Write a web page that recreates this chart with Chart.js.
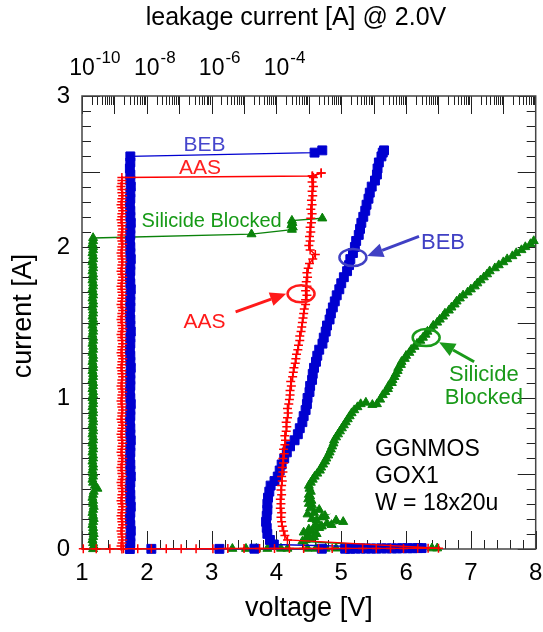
<!DOCTYPE html>
<html>
<head>
<meta charset="utf-8">
<title>GGNMOS TLP</title>
<script src="https://cdn.jsdelivr.net/npm/chart.js@4.4.1/dist/chart.umd.min.js"></script>
<style>
  html, body { margin: 0; padding: 0; background: #fff; }
  #wrap { width: 543px; height: 632px; position: relative; }
</style>
</head>
<body>
<div id="wrap"><canvas id="tlp"></canvas></div>
<script>
// TLP pulses: current [A], voltage [V]; leakage [A] read after each pulse at 2.0V

// BEB
const bebIvAmp = [
  0.001, 0.001, 0.002, 0.002, 0.002, 0.002, 0.003, 0.003, 0.003, 0.003,
  0.003, 0.004, 0.004, 0.004, 0.004, 0.005, 0.005, 0.005, 0.006, 0.006,
  0.03, 0.06, 0.10, 0.14, 0.18, 0.22, 0.26, 0.30, 0.34, 0.38,
  0.42, 0.45, 0.48, 0.52, 0.56, 0.60, 0.64, 0.68, 0.72, 0.76,
  0.80, 0.84, 0.88, 0.92, 0.96, 1.00, 1.04, 1.08, 1.12, 1.16,
  1.20, 1.24, 1.28, 1.32, 1.36, 1.40, 1.44, 1.48, 1.52, 1.56,
  1.60, 1.64, 1.68, 1.72, 1.76, 1.80, 1.84, 1.88, 1.92, 1.96,
  2.00, 2.04, 2.08, 2.12, 2.16, 2.20, 2.24, 2.28, 2.32, 2.36,
  2.40, 2.44, 2.48, 2.52, 2.56, 2.60, 2.625, 2.64
];
const bebIvVolt = [
  2.07, 3.12, 3.66, 4.70, 5.06, 5.14, 5.22, 5.30, 5.38, 5.46,
  5.54, 5.62, 5.70, 5.78, 5.86, 5.94, 6.02, 6.10, 6.18, 6.24,
  3.96, 3.90, 3.86, 3.85, 3.84, 3.85, 3.86, 3.86, 3.87, 3.89,
  3.91, 3.97, 4.02, 4.05, 4.08, 4.12, 4.16, 4.21, 4.28, 4.33,
  4.36, 4.40, 4.42, 4.45, 4.47, 4.48, 4.51, 4.52, 4.55, 4.56,
  4.58, 4.61, 4.63, 4.66, 4.71, 4.73, 4.76, 4.78, 4.82, 4.84,
  4.87, 4.90, 4.93, 4.97, 5.00, 5.04, 5.09, 5.12, 5.14, 5.18,
  5.21, 5.23, 5.27, 5.29, 5.31, 5.34, 5.37, 5.39, 5.42, 5.44,
  5.47, 5.52, 5.55, 5.56, 5.58, 5.62, 5.64, 5.66
];
const bebLeakAmp = [
  0.00, 0.04, 0.08, 0.12, 0.16, 0.20, 0.24, 0.28, 0.32, 0.36,
  0.40, 0.44, 0.48, 0.52, 0.56, 0.60, 0.64, 0.68, 0.72, 0.76,
  0.80, 0.84, 0.88, 0.92, 0.96, 1.00, 1.04, 1.08, 1.12, 1.16,
  1.20, 1.24, 1.28, 1.32, 1.36, 1.40, 1.44, 1.48, 1.52, 1.56,
  1.60, 1.64, 1.68, 1.72, 1.76, 1.80, 1.84, 1.88, 1.92, 1.96,
  2.00, 2.04, 2.08, 2.12, 2.16, 2.20, 2.24, 2.28, 2.32, 2.36,
  2.40, 2.44, 2.48, 2.52, 2.56, 2.60, 2.625, 2.64
];
const bebLeak = [
  3.0e-9, 3.1e-9, 3.1e-9, 3.2e-9, 3.1e-9, 3.0e-9, 3.1e-9, 3.2e-9, 3.1e-9, 3.1e-9,
  3.0e-9, 3.1e-9, 3.2e-9, 3.1e-9, 3.1e-9, 3.0e-9, 3.1e-9, 3.1e-9, 3.2e-9, 3.1e-9,
  3.1e-9, 3.0e-9, 3.1e-9, 3.1e-9, 3.2e-9, 3.1e-9, 3.0e-9, 3.1e-9, 3.1e-9, 3.1e-9,
  3.2e-9, 3.1e-9, 3.1e-9, 3.0e-9, 3.1e-9, 3.1e-9, 3.2e-9, 3.1e-9, 3.1e-9, 3.0e-9,
  3.1e-9, 3.1e-9, 3.1e-9, 3.2e-9, 3.1e-9, 3.0e-9, 3.1e-9, 3.1e-9, 3.2e-9, 3.1e-9,
  3.1e-9, 3.0e-9, 3.1e-9, 3.1e-9, 3.2e-9, 3.1e-9, 3.1e-9, 3.0e-9, 3.1e-9, 3.1e-9,
  3.2e-9, 3.1e-9, 3.1e-9, 3.0e-9, 3.1e-9, 3.1e-9, 1.5e-3, 2.6e-3
];

// AAS
const aasIvAmp = [
  0.001, 0.001, 0.001, 0.002, 0.002, 0.002, 0.002, 0.002, 0.002, 0.002,
  0.003, 0.003, 0.003, 0.003, 0.003, 0.003, 0.003, 0.003, 0.004, 0.004,
  0.004, 0.004, 0.004, 0.005, 0.005, 0.005,
  0.06, 0.09, 0.12, 0.15, 0.18, 0.21, 0.24, 0.27, 0.30, 0.33,
  0.36, 0.39, 0.42, 0.45, 0.48, 0.51, 0.54, 0.57, 0.60, 0.63,
  0.66, 0.69, 0.72, 0.75, 0.78, 0.81, 0.84, 0.87, 0.90, 0.93,
  0.96, 0.99, 1.02, 1.05, 1.08, 1.11, 1.14, 1.17, 1.20, 1.23,
  1.26, 1.29, 1.32, 1.35, 1.38, 1.41, 1.44, 1.47, 1.50, 1.53,
  1.56, 1.59, 1.62, 1.65, 1.68, 1.71, 1.74, 1.77, 1.80, 1.83,
  1.86, 1.89, 1.92, 1.95, 1.98, 2.01, 2.04, 2.07, 2.10, 2.13,
  2.16, 2.19, 2.22, 2.25, 2.28, 2.31, 2.34, 2.37, 2.40, 2.43,
  2.46, 2.47, 2.49
];
const aasIvVolt = [
  1.02, 1.22, 1.43, 1.64, 1.86, 2.07, 2.30, 2.53, 2.76, 3.02,
  3.25, 3.50, 3.74, 3.97, 4.20, 4.42, 4.65, 4.86, 5.07, 5.33,
  5.54, 5.76, 5.96, 6.18, 6.34, 6.50,
  4.17, 4.13, 4.11, 4.09, 4.08, 4.07, 4.08, 4.06, 4.07, 4.06,
  4.08, 4.07, 4.08, 4.09, 4.08, 4.10, 4.09, 4.11, 4.10, 4.12,
  4.11, 4.13, 4.14, 4.13, 4.15, 4.16, 4.15, 4.17, 4.18, 4.17,
  4.19, 4.20, 4.21, 4.21, 4.23, 4.22, 4.25, 4.26, 4.27, 4.29,
  4.30, 4.31, 4.33, 4.34, 4.36, 4.36, 4.38, 4.39, 4.40, 4.41,
  4.42, 4.43, 4.45, 4.45, 4.47, 4.45, 4.47, 4.46, 4.48, 4.47,
  4.49, 4.51, 4.56, 4.60, 4.52, 4.50, 4.52, 4.51, 4.53, 4.52,
  4.54, 4.53, 4.55, 4.53, 4.55, 4.54, 4.56, 4.55, 4.57, 4.55,
  4.57, 4.55, 4.69
];
const aasLeakAmp = [
  0.00, 0.02, 0.04, 0.06, 0.08, 0.10, 0.12, 0.14, 0.16, 0.18,
  0.20, 0.22, 0.24, 0.26, 0.28, 0.30, 0.32, 0.34, 0.36, 0.38,
  0.40, 0.42, 0.44, 0.46, 0.48, 0.50, 0.52, 0.54, 0.56, 0.58,
  0.60, 0.62, 0.64, 0.66, 0.68, 0.70, 0.72, 0.74, 0.76, 0.78,
  0.80, 0.82, 0.84, 0.86, 0.88, 0.90, 0.92, 0.94, 0.96, 0.98,
  1.00, 1.02, 1.04, 1.06, 1.08, 1.10, 1.12, 1.14, 1.16, 1.18,
  1.20, 1.22, 1.24, 1.26, 1.28, 1.30, 1.32, 1.34, 1.36, 1.38,
  1.40, 1.42, 1.44, 1.46, 1.48, 1.50, 1.52, 1.54, 1.56, 1.58,
  1.60, 1.62, 1.64, 1.66, 1.68, 1.70, 1.72, 1.74, 1.76, 1.78,
  1.80, 1.82, 1.84, 1.86, 1.88, 1.90, 1.92, 1.94, 1.96, 1.98,
  2.00, 2.02, 2.04, 2.06, 2.08, 2.10, 2.12, 2.14, 2.16, 2.18,
  2.20, 2.22, 2.24, 2.26, 2.28, 2.30, 2.32, 2.34, 2.36, 2.38,
  2.40, 2.42, 2.44, 2.46, 2.47, 2.49
];
const aasLeak = [
  1.7e-9, 1.6e-9, 1.7e-9, 1.8e-9, 1.7e-9, 1.7e-9, 1.6e-9, 1.7e-9, 1.8e-9, 1.7e-9,
  1.7e-9, 1.6e-9, 1.7e-9, 1.7e-9, 1.8e-9, 1.7e-9, 1.6e-9, 1.7e-9, 1.7e-9, 1.8e-9,
  1.7e-9, 1.7e-9, 1.6e-9, 1.7e-9, 1.8e-9, 1.7e-9, 1.7e-9, 1.6e-9, 1.7e-9, 1.7e-9,
  1.8e-9, 1.7e-9, 1.6e-9, 1.7e-9, 1.7e-9, 1.8e-9, 1.7e-9, 1.7e-9, 1.6e-9, 1.7e-9,
  1.7e-9, 1.8e-9, 1.7e-9, 1.6e-9, 1.7e-9, 1.7e-9, 1.8e-9, 1.7e-9, 1.7e-9, 1.6e-9,
  1.7e-9, 1.7e-9, 1.8e-9, 1.7e-9, 1.6e-9, 1.7e-9, 1.7e-9, 1.8e-9, 1.7e-9, 1.7e-9,
  1.6e-9, 1.7e-9, 1.7e-9, 1.8e-9, 1.7e-9, 1.6e-9, 1.7e-9, 1.7e-9, 1.8e-9, 1.7e-9,
  1.7e-9, 1.6e-9, 1.7e-9, 1.8e-9, 1.7e-9, 1.7e-9, 1.6e-9, 1.7e-9, 1.7e-9, 1.8e-9,
  1.7e-9, 1.6e-9, 1.7e-9, 1.7e-9, 1.8e-9, 1.7e-9, 1.7e-9, 1.6e-9, 1.7e-9, 1.7e-9,
  1.8e-9, 1.7e-9, 1.6e-9, 1.7e-9, 1.7e-9, 1.8e-9, 1.7e-9, 1.7e-9, 1.6e-9, 1.7e-9,
  1.7e-9, 1.8e-9, 1.7e-9, 1.6e-9, 1.7e-9, 1.7e-9, 1.8e-9, 1.7e-9, 1.7e-9, 1.6e-9,
  1.7e-9, 1.7e-9, 1.8e-9, 1.7e-9, 1.6e-9, 1.7e-9, 1.7e-9, 1.8e-9, 1.7e-9, 1.7e-9,
  1.6e-9, 1.7e-9, 1.7e-9, 1.7e-9, 1.3e-3, 2.4e-3
];

// Silicide Blocked
const sbIvAmp = [
  0.002, 0.002, 0.002, 0.002, 0.003, 0.003, 0.003, 0.003, 0.003, 0.004,
  0.005, 0.005,
  0.05, 0.06, 0.07, 0.08, 0.10, 0.09, 0.11, 0.12, 0.14, 0.13,
  0.15, 0.16, 0.18, 0.19, 0.17, 0.16, 0.19, 0.21, 0.22, 0.20,
  0.23, 0.24, 0.26, 0.27, 0.29, 0.30, 0.32, 0.33, 0.35, 0.36,
  0.38, 0.40,
  0.42, 0.44, 0.46, 0.48, 0.50, 0.52, 0.54, 0.56, 0.58, 0.60,
  0.62, 0.64, 0.66, 0.68, 0.70, 0.72, 0.74, 0.76, 0.78, 0.80,
  0.82, 0.84, 0.86, 0.88, 0.90, 0.92, 0.94, 0.96, 0.97, 0.955,
  0.96, 0.99, 1.02,
  1.04, 1.06, 1.08, 1.10, 1.12, 1.14, 1.16, 1.18, 1.20, 1.22,
  1.24, 1.26, 1.28, 1.30, 1.32, 1.34, 1.36, 1.38, 1.40, 1.42,
  1.44, 1.46, 1.48, 1.50, 1.52, 1.54, 1.56, 1.58, 1.60, 1.62,
  1.64, 1.66, 1.68, 1.70, 1.72, 1.74, 1.76, 1.78, 1.80, 1.82,
  1.84, 1.86, 1.88, 1.90, 1.92, 1.94, 1.96, 1.98, 2.00, 2.02,
  2.04
];
const sbIvVolt = [
  3.32, 3.53, 3.69, 3.86, 4.07, 4.17, 4.48, 4.61, 4.76, 4.92,
  6.40, 6.48,
  4.40, 4.45, 4.52, 4.58, 4.62, 4.48, 4.42, 4.55, 4.66, 4.50,
  4.70, 4.85, 5.03, 4.92, 4.78, 4.60, 4.62, 4.70, 4.75, 4.55,
  4.48, 4.58, 4.66, 4.52, 4.55, 4.50, 4.54, 4.49, 4.52, 4.50,
  4.53, 4.51,
  4.50, 4.53, 4.56, 4.59, 4.63, 4.67, 4.69, 4.72, 4.75, 4.77,
  4.80, 4.82, 4.84, 4.86, 4.88, 4.89, 4.92, 4.95, 4.98, 5.01,
  5.04, 5.07, 5.10, 5.13, 5.16, 5.20, 5.25, 5.30, 5.38, 5.48,
  5.55, 5.60, 5.64,
  5.68, 5.72, 5.73, 5.78, 5.79, 5.82, 5.84, 5.87, 5.88, 5.92,
  5.93, 5.98, 6.00, 6.05, 6.08, 6.13, 6.17, 6.22, 6.26, 6.30,
  6.33, 6.39, 6.42, 6.48, 6.52, 6.57, 6.60, 6.66, 6.70, 6.75,
  6.78, 6.83, 6.88, 6.95, 7.00, 7.06, 7.10, 7.15, 7.20, 7.25,
  7.29, 7.37, 7.43, 7.50, 7.56, 7.64, 7.70, 7.78, 7.84, 7.92,
  7.97
];
const sbLeakAmp = [
  0.00, 0.02, 0.04, 0.06, 0.08, 0.10, 0.12, 0.14, 0.16, 0.18,
  0.20, 0.22, 0.24, 0.26, 0.28, 0.30, 0.32, 0.34, 0.36, 0.38,
  0.40, 0.42, 0.44, 0.46, 0.48, 0.50, 0.52, 0.54, 0.56, 0.58,
  0.60, 0.62, 0.64, 0.66, 0.68, 0.70, 0.72, 0.74, 0.76, 0.78,
  0.80, 0.82, 0.84, 0.86, 0.88, 0.90, 0.92, 0.94, 0.96, 0.98,
  1.00, 1.02, 1.04, 1.06, 1.08, 1.10, 1.12, 1.14, 1.16, 1.18,
  1.20, 1.22, 1.24, 1.26, 1.28, 1.30, 1.32, 1.34, 1.36, 1.38,
  1.40, 1.42, 1.44, 1.46, 1.48, 1.50, 1.52, 1.54, 1.56, 1.58,
  1.60, 1.62, 1.64, 1.66, 1.68, 1.70, 1.72, 1.74, 1.76, 1.78,
  1.80, 1.82, 1.84, 1.86, 1.88, 1.90, 1.92, 1.94, 1.96, 1.98,
  2.00, 2.02, 2.04, 2.06, 2.085, 2.115, 2.13, 2.145, 2.16, 2.175,
  2.19
];
const sbLeak = [
  2.2e-10, 2.3e-10, 2.2e-10, 2.1e-10, 2.2e-10, 2.3e-10, 2.2e-10, 2.2e-10, 2.1e-10, 2.2e-10,
  2.3e-10, 2.2e-10, 2.1e-10, 2.2e-10, 2.3e-10, 2.2e-10, 2.2e-10, 2.1e-10, 2.2e-10, 2.3e-10,
  3.0e-10, 2.5e-10, 2.2e-10, 2.1e-10, 2.2e-10, 2.2e-10, 2.1e-10, 2.2e-10, 2.2e-10, 2.1e-10,
  2.2e-10, 2.2e-10, 2.1e-10, 2.2e-10, 2.2e-10, 2.1e-10, 2.2e-10, 2.2e-10, 2.1e-10, 2.2e-10,
  2.2e-10, 2.1e-10, 2.2e-10, 2.2e-10, 2.1e-10, 2.2e-10, 2.2e-10, 2.1e-10, 2.2e-10, 2.2e-10,
  2.1e-10, 2.2e-10, 2.2e-10, 2.1e-10, 2.2e-10, 2.2e-10, 2.1e-10, 2.2e-10, 2.2e-10, 2.1e-10,
  2.2e-10, 2.2e-10, 2.1e-10, 2.2e-10, 2.2e-10, 2.1e-10, 2.2e-10, 2.2e-10, 2.1e-10, 2.2e-10,
  2.2e-10, 2.1e-10, 2.2e-10, 2.2e-10, 2.1e-10, 2.2e-10, 2.2e-10, 2.1e-10, 2.2e-10, 2.2e-10,
  2.1e-10, 2.2e-10, 2.2e-10, 2.1e-10, 2.2e-10, 2.2e-10, 2.1e-10, 2.2e-10, 2.2e-10, 2.1e-10,
  2.2e-10, 2.2e-10, 2.1e-10, 2.2e-10, 2.2e-10, 2.1e-10, 2.2e-10, 2.2e-10, 2.1e-10, 2.2e-10,
  2.2e-10, 2.1e-10, 2.2e-10, 2.2e-10, 1.7e-5, 3.0e-4, 3.2e-4, 2.9e-4, 3.1e-4, 3.0e-4,
  2.6e-3
];

// axis ticks
const voltTicks = [1, 2, 3, 4, 5, 6, 7, 8];
const ampTicks = [0, 1, 2, 3];
const leakExpTicks = [-10, -8, -6, -4];

const BLUE = '#0000d0';
const RED = '#ff0000';
const GREEN = '#0a820a';
const FONT = 'Liberation Sans, Arial, Helvetica, sans-serif';

const pts = (xs, ys) => xs.map((v, i) => ({ x: v, y: ys[i] }));

function series(label, xs, ys, axis, color, style, radius) {
  return {
    label,
    data: pts(xs, ys),
    xAxisID: axis,
    yAxisID: 'y',
    showLine: true,
    borderColor: color,
    borderWidth: 1.4,
    pointStyle: style,
    pointRadius: radius,
    pointBackgroundColor: color,
    pointBorderColor: color,
    pointBorderWidth: style === 'cross' ? 1.5 : 1,
    tension: 0,
    clip: 10
  };
}

// inward ticks, frame, tick labels and axis titles
const frame = {
  id: 'frame',
  beforeDatasetsDraw(chart) {
    const { ctx, chartArea: a, scales } = chart;
    const x = scales.x, y = scales.y, lk = scales.leak;
    ctx.save();
    ctx.strokeStyle = '#222';
    ctx.lineWidth = 1;
    const seg = (x0, y0, x1, y1) => {
      ctx.beginPath(); ctx.moveTo(x0, y0); ctx.lineTo(x1, y1); ctx.stroke();
    };
    for (let i = 0; i <= 35; i++) {
      const px = Math.round(x.getPixelForValue(1 + i * 0.2)) + 0.5;
      seg(px, a.bottom, px, a.bottom - (i % 5 === 0 ? 18 : 9));
    }
    for (let i = 0; i <= 30; i++) {
      const py = Math.round(y.getPixelForValue(i * 0.1)) + 0.5;
      const len = i % 5 === 0 ? 18 : 9;
      seg(a.left, py, a.left + len, py);
      seg(a.right, py, a.right - len, py);
    }
    for (let d = -10; d < 4; d++) {
      for (let k = 1; k <= 9; k++) {
        const px = Math.round(lk.getPixelForValue(k * Math.pow(10, d))) + 0.5;
        seg(px, a.top, px, a.top + (k === 1 ? 18 : 9));
      }
    }
    ctx.strokeStyle = '#444';
    ctx.lineWidth = 1.5;
    ctx.strokeRect(a.left, a.top, a.right - a.left, a.bottom - a.top);

    ctx.fillStyle = '#000';
    ctx.font = '24px ' + FONT;
    ctx.textAlign = 'right';
    ctx.textBaseline = 'middle';
    ampTicks.forEach(v => ctx.fillText(String(v), a.left - 12, y.getPixelForValue(v)));
    ctx.textAlign = 'center';
    ctx.textBaseline = 'top';
    voltTicks.forEach(v => ctx.fillText(String(v), x.getPixelForValue(v), a.bottom + 12));

    ctx.textBaseline = 'alphabetic';
    leakExpTicks.forEach(e => {
      const px = lk.getPixelForValue(Math.pow(10, e));
      ctx.font = '23px ' + FONT;
      const w = ctx.measureText('10').width;
      ctx.textAlign = 'left';
      ctx.fillText('10', px - w / 2, 75);
      ctx.font = '17px ' + FONT;
      ctx.fillText(String(e), px + w / 2 + 1, 63);
    });

    ctx.font = '25px ' + FONT;
    ctx.textAlign = 'center';
    ctx.fillText('leakage current [A] @ 2.0V', 296, 25);
    ctx.font = '27px ' + FONT;
    ctx.textBaseline = 'middle';
    ctx.fillText('voltage [V]', (a.left + a.right) / 2, 609);
    ctx.translate(24, 316);
    ctx.rotate(-Math.PI / 2);
    ctx.fillText('current [A]', 0, 0);
    ctx.restore();
  },

  afterDatasetsDraw(chart) {
    const { ctx, scales } = chart;
    const px = v => scales.x.getPixelForValue(v);
    const py = v => scales.y.getPixelForValue(v);
    ctx.save();

    const ring = (v, i, color) => {
      ctx.strokeStyle = color;
      ctx.lineWidth = 2.5;
      ctx.beginPath();
      ctx.ellipse(px(v), py(i), 13.5, 8.5, 0, 0, Math.PI * 2);
      ctx.stroke();
    };
    const arrow = (v0, i0, v1, i1, color) => {
      const x0 = px(v0), y0 = py(i0), x1 = px(v1), y1 = py(i1);
      const ang = Math.atan2(y1 - y0, x1 - x0);
      const hl = 16, hw = 7;
      const bx = x1 - hl * Math.cos(ang), by = y1 - hl * Math.sin(ang);
      ctx.strokeStyle = color;
      ctx.fillStyle = color;
      ctx.lineWidth = 3;
      ctx.beginPath(); ctx.moveTo(x0, y0); ctx.lineTo(bx, by); ctx.stroke();
      ctx.beginPath();
      ctx.moveTo(x1, y1);
      ctx.lineTo(bx + hw * Math.sin(ang), by - hw * Math.cos(ang));
      ctx.lineTo(bx - hw * Math.sin(ang), by + hw * Math.cos(ang));
      ctx.closePath();
      ctx.fill();
    };
    const label = (text, v, i, color, size, align) => {
      ctx.fillStyle = color;
      ctx.font = size + 'px ' + FONT;
      ctx.textAlign = align || 'center';
      ctx.textBaseline = 'middle';
      ctx.fillText(text, px(v), py(i));
    };

    // curve tags beside the leakage jumps
    label('BEB', 2.89, 2.675, '#4545cc', 21);
    label('AAS', 2.82, 2.52, '#ff2020', 21);
    label('Silicide Blocked', 3.0, 2.17, '#169a16', 20);

    // markers on the I-V curves
    ring(5.18, 1.93, '#4040c4');
    arrow(6.20, 2.07, 5.40, 1.94, '#4040c4');
    label('BEB', 6.23, 2.03, '#4040c4', 22, 'left');

    ring(4.38, 1.69, '#ff1a1a');
    arrow(3.37, 1.57, 4.15, 1.69, '#ff1a1a');
    label('AAS', 2.89, 1.50, '#ff1a1a', 21);

    ring(6.31, 1.40, '#1a9a1a');
    arrow(7.05, 1.24, 6.51, 1.37, '#1a9a1a');
    label('Silicide', 7.20, 1.15, '#1a9a1a', 22);
    label('Blocked', 7.20, 1.0, '#1a9a1a', 22);

    label('GGNMOS', 5.52, 0.655, '#000', 23, 'left');
    label('GOX1', 5.52, 0.477, '#000', 23, 'left');
    label('W = 18x20u', 5.52, 0.298, '#000', 23, 'left');
    ctx.restore();
  }
};

new Chart(document.getElementById('tlp').getContext('2d'), {
  type: 'scatter',
  data: {
    datasets: [
      series('AAS', aasIvVolt, aasIvAmp, 'x', RED, 'cross', 4.5),
      series('AAS leakage', aasLeak, aasLeakAmp, 'leak', RED, 'cross', 4.5),
      series('BEB', bebIvVolt, bebIvAmp, 'x', BLUE, 'rect', 6.3),
      series('BEB leakage', bebLeak, bebLeakAmp, 'leak', BLUE, 'rect', 6.3),
      series('Silicide Blocked', sbIvVolt, sbIvAmp, 'x', GREEN, 'triangle', 5.2),
      series('Silicide Blocked leakage', sbLeak, sbLeakAmp, 'leak', GREEN, 'triangle', 5.2)
    ]
  },
  options: {
    responsive: true,
    maintainAspectRatio: false,
    animation: false,
    devicePixelRatio: 1,
    layout: { padding: { left: 82, right: 6, top: 96, bottom: 83 } },
    plugins: { legend: { display: false }, tooltip: { enabled: false } },
    scales: {
      x: { type: 'linear', min: 1, max: 8, display: false },
      y: { type: 'linear', min: 0, max: 3, display: false },
      leak: { type: 'logarithmic', axis: 'x', position: 'top', min: 1e-10, max: 1e4, display: false }
    }
  },
  plugins: [frame]
});
</script>
</body>
</html>
